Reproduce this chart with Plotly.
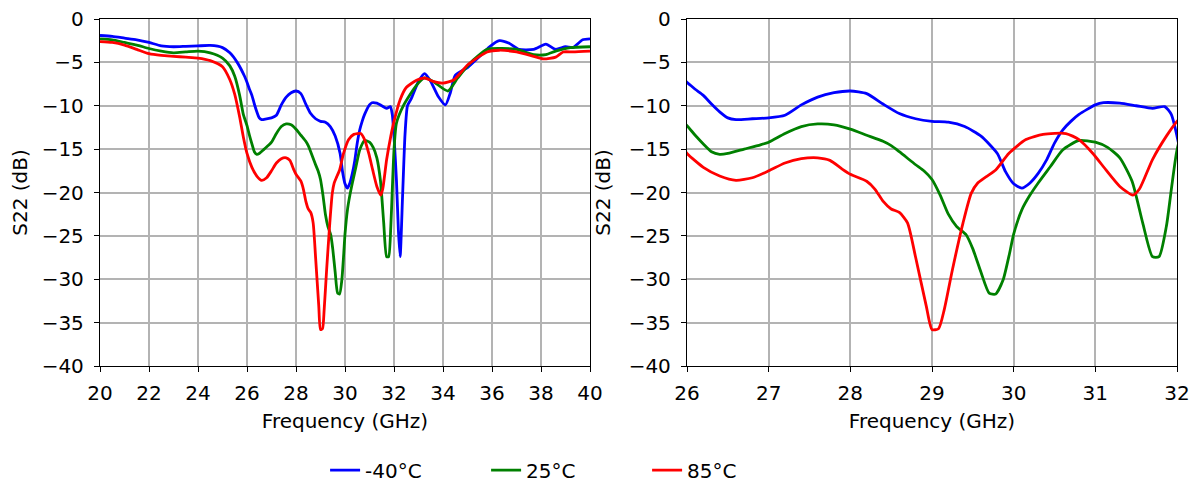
import plotly.graph_objects as go
from plotly.subplots import make_subplots

# ---- data ----
freq_m40 = [20.0, 20.5, 21.0, 21.5, 22.0, 22.5, 23.0, 23.5, 24.0, 24.5, 25.0, 25.3, 25.6, 25.9,
            26.0, 26.1, 26.2, 26.3, 26.4, 26.5, 26.6, 26.8, 27.0, 27.2, 27.4, 27.6, 27.8, 28.0,
            28.2, 28.4, 28.6, 28.8, 29.0, 29.2, 29.4, 29.6, 29.8, 29.9, 30.0, 30.1, 30.2, 30.3,
            30.4, 30.5, 30.6, 30.7, 30.8, 31.0, 31.1, 31.3, 31.5, 31.7, 31.85, 31.93, 32.0, 32.1,
            32.18, 32.25, 32.35, 32.45, 32.55, 32.7, 33.0, 33.25, 33.5, 33.8, 34.1, 34.3, 34.5,
            35.0, 35.5, 35.9, 36.3, 36.7, 37.1, 37.7, 38.2, 38.6, 39.0, 39.3, 39.7, 40.0]
s22_m40 = [-1.9, -2.0, -2.2, -2.4, -2.7, -3.1, -3.2, -3.15, -3.1, -3.05, -3.3, -3.9, -5.0, -6.6,
           -7.3, -8.1, -8.8, -9.8, -10.7, -11.4, -11.6, -11.5, -11.4, -11.1, -9.9, -9.0, -8.5, -8.3,
           -8.6, -9.8, -10.9, -11.5, -11.8, -11.9, -12.4, -13.5, -15.5, -17.6, -19.0, -19.5, -18.9, -17.8,
           -16.3, -14.3, -12.8, -11.8, -11.0, -9.9, -9.65, -9.7, -10.0, -10.3, -10.1, -11.0, -13.5, -18.6,
           -24.4, -27.4, -20.4, -13.3, -10.0, -9.2, -7.2, -6.3, -7.2, -8.9, -9.9, -8.5, -6.5,
           -5.6, -4.3, -3.2, -2.5, -2.8, -3.5, -3.5, -2.9, -3.5, -3.2, -3.3, -2.4, -2.3]

freq_25 = [20.0, 20.5, 21.0, 21.5, 22.0, 22.5, 23.0, 23.5, 24.0, 24.5, 25.0, 25.3, 25.5, 25.7,
           25.85, 26.0, 26.1, 26.2, 26.3, 26.4, 26.5, 26.7, 26.9, 27.0, 27.2, 27.4, 27.6, 27.8,
           28.0, 28.2, 28.4, 28.5, 28.6, 28.8, 28.9, 29.0, 29.1, 29.2, 29.3, 29.42, 29.5, 29.6,
           29.7, 29.78, 29.87, 29.95, 30.0, 30.1, 30.2, 30.3, 30.45, 30.6, 30.8, 31.0, 31.15, 31.3,
           31.45, 31.58, 31.7, 31.78, 31.87, 31.93, 32.0, 32.1, 32.4, 32.9, 33.25, 33.6, 34.2,
           34.6, 35.1, 35.8, 36.3, 37.0, 37.7, 38.2, 38.6, 39.2, 40.0]
s22_25 = [-2.3, -2.4, -2.7, -3.0, -3.4, -3.7, -3.9, -3.8, -3.7, -3.9, -4.5, -5.4, -6.6, -8.8,
          -11.0, -12.3, -13.4, -14.4, -15.3, -15.6, -15.5, -15.0, -14.5, -14.2, -13.2, -12.4, -12.1, -12.2,
          -12.7, -13.4, -14.1, -14.6, -15.3, -16.8, -17.5, -18.5, -20.3, -22.5, -23.9, -24.9, -26.5, -29.2,
          -31.6, -31.7, -30.1, -27.0, -24.8, -22.0, -20.3, -18.9, -17.0, -15.1, -14.0, -14.2, -14.8, -16.0,
          -18.7, -23.5, -27.4, -27.4, -23.9, -19.7, -15.1, -12.0, -9.9, -7.7, -6.8, -7.2, -8.3,
          -6.8, -5.1, -3.5, -3.4, -3.5, -4.1, -4.1, -3.7, -3.3, -3.2]

freq_85 = [20.0, 20.5, 21.0, 21.5, 22.0, 22.5, 23.0, 23.5, 24.0, 24.5, 25.0, 25.3, 25.5, 25.7,
           25.85, 26.0, 26.2, 26.4, 26.6, 26.8, 27.0, 27.2, 27.4, 27.6, 27.75, 27.9, 28.0, 28.2,
           28.3, 28.4, 28.5, 28.6, 28.7, 28.8, 28.93, 29.0, 29.08, 29.15, 29.25, 29.38, 29.48, 29.56,
           29.66, 29.78, 29.94, 30.15, 30.36, 30.64, 30.8, 30.97, 31.13, 31.3, 31.46, 31.54, 31.7,
           31.87, 32.0, 32.25, 32.5, 32.9, 33.25, 33.6, 34.0, 34.45, 35.0, 35.8, 36.3, 37.0, 37.7,
           38.1, 38.6, 38.9, 39.3, 40.0]
s22_85 = [-2.6, -2.7, -3.0, -3.5, -4.0, -4.2, -4.3, -4.4, -4.5, -4.8, -5.5, -7.0, -8.7, -11.3,
          -13.6, -15.5, -17.1, -18.1, -18.6, -18.3, -17.5, -16.6, -16.1, -16.0, -16.3, -17.3, -17.9, -18.7,
          -19.6, -21.0, -21.9, -22.3, -23.5, -27.5, -33.1, -35.8, -35.7, -33.5, -28.9, -23.5, -20.1, -18.9,
          -18.2, -17.4, -15.5, -13.9, -13.3, -13.2, -13.9, -15.5, -17.4, -19.3, -20.3, -19.6, -16.2,
          -13.5, -11.8, -9.3, -7.9, -7.1, -6.8, -7.2, -7.4, -7.0, -5.3, -3.8, -3.6, -3.8, -4.3,
          -4.6, -4.4, -3.8, -3.8, -3.7]

series = [
    ("-40°C", freq_m40, s22_m40, "#0000ff"),
    ("25°C", freq_25, s22_25, "#008000"),
    ("85°C", freq_85, s22_85, "#ff0000"),
]

x_ticks_left = [20, 22, 24, 26, 28, 30, 32, 34, 36, 38, 40]
x_ticks_right = [26, 27, 28, 29, 30, 31, 32]
y_ticks = [0, -5, -10, -15, -20, -25, -30, -35, -40]

fig = make_subplots(rows=1, cols=2)

for col in (1, 2):
    for name, fx, fy, color in series:
        fig.add_trace(go.Scatter(
            x=fx, y=fy, mode="lines", name=name,
            line=dict(color=color, width=2.8, shape="spline", smoothing=0.6),
            showlegend=(col == 1), legendgroup=name,
        ), row=1, col=col)

font_family = "DejaVu Sans"
FS = 20
axis_common = dict(
    showline=True, linecolor="black", linewidth=1.3, mirror=True,
    ticks="outside", ticklen=5, tickwidth=1.3, tickcolor="black",
    showgrid=True, gridcolor="#b3b3b3", gridwidth=1.5,
    zeroline=False, automargin=False, ticklabeloverflow="allow",
    tickfont=dict(size=FS, color="black", family=font_family),
)
title_font = dict(size=FS, color="black", family=font_family)

fig.update_xaxes(range=[20, 40], tickvals=x_ticks_left, row=1, col=1, **axis_common,
                 ticklabelstandoff=4,
                 title=dict(text="Frequency (GHz)", font=title_font, standoff=9))
fig.update_xaxes(range=[26, 32], tickvals=x_ticks_right, row=1, col=2, **axis_common,
                 ticklabelstandoff=4,
                 title=dict(text="Frequency (GHz)", font=title_font, standoff=9))
fig.update_yaxes(range=[-40, 0], tickvals=y_ticks, **axis_common,
                 ticklabelstandoff=6,
                 title=dict(text="S22 (dB)", font=title_font, standoff=12))

fig.update_layout(
    width=1204, height=484,
    margin=dict(l=92, r=35, t=11, b=126, autoexpand=False),
    paper_bgcolor="white", plot_bgcolor="white",
    font=dict(family=font_family, color="black"),
    legend=dict(orientation="h", x=0.209, xanchor="left", y=-0.30, yanchor="middle",
                font=dict(size=FS, family=font_family, color="black"),
                entrywidth=116, entrywidthmode="pixels"),
)
fig.layout.xaxis.domain = [0, 490 / 1077]
fig.layout.xaxis2.domain = [587 / 1077, 1.0]

fig.write_html("out.html")
